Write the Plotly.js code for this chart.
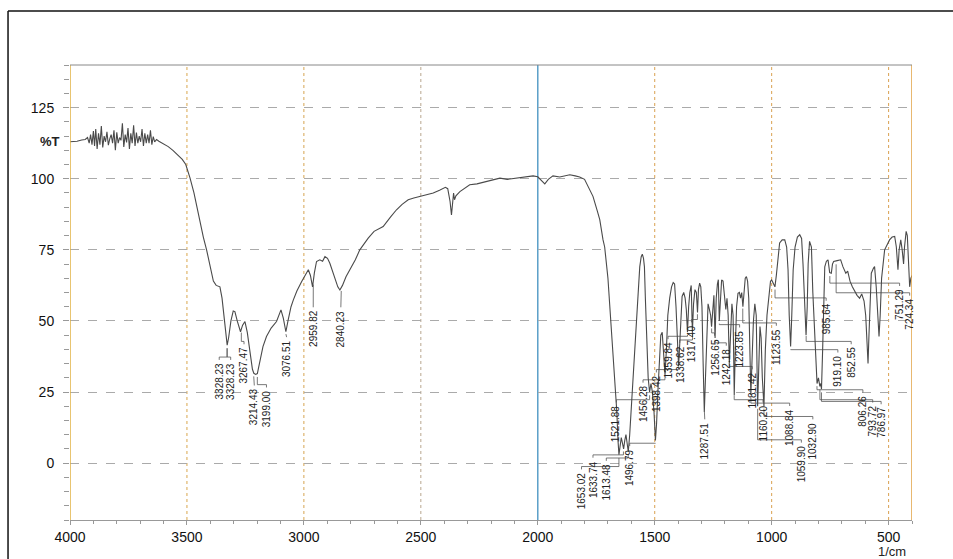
<!DOCTYPE html>
<html>
<head>
<meta charset="utf-8">
<script src="https://cdn.plot.ly/plotly-3.0.1.min.js"></script>
<style>
html,body{margin:0;padding:0;background:#fff;}
#chart{width:953px;height:559px;}
</style>
</head>
<body>
<div id="chart"></div>
<script>
// ---- spectrum (wavenumber, %T) ----
const wavenumber = [4000,3990,3970,3950,3935,3925,3918,3912,3906,3900,3895,3890,3884,3878,3872,3866,3860,3854,3848,3842,3836,3830,3824,3818,3812,3806,3800,3794,3788,3782,3776,3770,3764,3758,3752,3746,3740,3734,3728,3722,3716,3710,3704,3698,3692,3686,3680,3674,3668,3662,3656,3650,3644,3638,3630,3620,3600,3580,3560,3540,3520,3505,3495,3487,3470,3450,3430,3416,3400,3387,3375,3359,3350,3340,3333,3328,3322,3312,3302,3295,3285,3271,3262,3252,3242,3230,3220,3214,3206,3199,3190,3175,3160,3140,3117,3098,3088,3077,3068,3055,3045,3030,3010,2995,2981,2972,2963,2955,2946,2932,2920,2910,2899,2889,2870,2855,2846,2835,2820,2803,2780,2761,2740,2725,2700,2661,2630,2604,2580,2554,2530,2504,2470,2447,2420,2395,2385,2375,2369,2364,2360,2356,2350,2333,2310,2291,2260,2234,2200,2162,2130,2091,2050,2020,2000,1985,1970,1955,1935,1906,1880,1863,1840,1821,1800,1792,1764,1745,1735,1721,1714,1700,1692,1680,1671,1662,1657,1653,1648,1643,1638,1633,1628,1623,1618,1613,1607,1600,1592,1585,1578,1571,1564,1558,1553,1548,1544,1540,1535,1528,1522,1516,1510,1503,1497,1492,1486,1480,1474,1468,1462,1456,1450,1444,1436,1428,1421,1415,1409,1403,1398,1393,1388,1383,1376,1370,1365,1360,1355,1350,1344,1339,1334,1328,1322,1317,1313,1308,1303,1298,1293,1288,1283,1278,1272,1266,1261,1257,1252,1247,1242,1237,1232,1228,1224,1219,1214,1208,1202,1196,1191,1186,1181,1176,1170,1165,1160,1155,1150,1144,1138,1133,1128,1123,1118,1113,1108,1103,1098,1093,1089,1084,1078,1072,1066,1060,1055,1050,1045,1040,1033,1027,1020,1012,1005,1000,992,986,980,972,966,955,944,936,930,925,919,914,908,900,890,880,872,866,860,853,848,844,838,830,824,815,808,806,800,794,790,787,782,778,773,766,759,752,745,740,735,720,705,695,683,675,665,655,645,635,624,615,605,598,592,588,584,578,574,565,560,553,547,541,536,530,517,505,496,485,474,467,460,455,448,442,436,432,425,420,415,410,405,400];
const transmittance = [113.0,113.0,113.2,113.6,113.8,114.5,112.5,115.5,112.0,116.8,111.5,117.5,110.5,116.0,112.0,118.5,111.0,115.0,113.0,116.5,111.8,114.0,115.5,112.5,117.0,110.0,116.3,112.5,114.5,113.5,119.5,111.2,115.5,112.8,117.8,110.5,116.0,112.5,118.8,111.5,116.2,112.5,115.0,113.0,117.5,111.5,116.0,112.5,115.5,112.5,117.0,112.0,114.8,113.0,113.8,113.2,112.3,111.3,110.0,108.5,106.8,105.0,102.5,100.3,95.0,87.0,79.5,75.0,69.0,64.0,62.5,62.0,58.0,50.0,43.5,41.5,44.0,50.0,53.5,53.3,50.0,46.2,48.5,49.8,46.0,38.0,33.0,31.6,31.2,31.5,35.0,41.0,44.5,47.5,49.8,53.9,51.0,46.2,50.0,55.0,57.4,60.5,63.8,66.0,68.0,66.0,62.0,67.0,70.9,71.5,71.0,72.6,72.0,70.3,66.0,62.0,60.9,62.5,65.5,68.0,71.5,75.0,77.5,79.1,81.5,83.2,86.5,89.1,91.0,92.6,93.2,93.8,94.5,95.0,96.0,97.0,96.5,92.0,87.3,92.0,95.0,92.6,94.0,95.5,96.8,97.9,98.2,98.7,99.6,100.2,99.8,100.2,100.6,101.0,100.7,99.5,98.2,99.8,101.0,100.6,101.2,101.4,101.0,100.6,99.8,98.5,93.8,88.5,85.6,78.5,76.0,65.0,55.0,40.0,31.6,18.0,8.0,3.0,6.0,9.0,7.0,5.0,8.0,10.0,7.0,4.0,10.0,20.0,30.0,39.8,50.3,61.0,69.0,72.5,73.5,72.0,69.0,58.0,45.0,30.0,25.0,28.0,25.0,18.0,8.0,14.0,26.0,38.0,45.0,46.0,40.0,31.0,40.0,52.0,58.0,62.0,63.5,63.0,55.0,42.0,34.0,42.0,52.0,58.6,60.0,58.0,54.0,46.0,55.0,60.0,62.5,46.0,56.0,61.0,60.0,53.0,61.0,63.3,62.0,55.0,35.0,18.0,30.0,45.0,56.0,54.0,52.0,48.0,56.0,59.0,44.0,58.0,63.0,64.5,50.0,58.0,64.4,64.0,58.0,54.0,58.0,52.0,35.0,48.0,56.0,52.0,24.0,42.0,55.0,59.7,60.0,58.0,60.0,55.0,62.0,65.0,65.6,64.0,58.0,40.0,24.0,36.0,50.0,56.0,52.0,20.0,35.0,48.0,44.0,30.0,20.0,40.0,52.0,60.0,64.0,64.4,63.0,62.0,66.0,72.0,77.4,78.5,78.5,76.0,68.0,52.0,41.0,52.0,68.0,76.0,79.5,80.3,79.0,70.0,55.0,45.0,55.0,70.0,78.0,76.0,60.0,45.0,30.0,28.0,30.0,27.0,28.0,26.0,40.0,55.0,69.0,71.0,71.5,67.0,66.8,70.0,70.9,71.2,71.5,69.0,66.8,67.5,64.0,62.0,60.3,59.0,58.0,59.5,57.0,52.0,42.0,35.0,45.0,62.0,66.8,68.5,69.1,62.0,52.0,44.5,52.0,65.0,75.0,77.0,78.5,79.5,79.7,76.0,68.0,75.0,78.5,75.0,70.0,76.0,81.5,80.0,70.0,62.0,65.0,66.0];

// ---- peak labels ----
const peakLabels = ["3328.23","3328.23","3267.47","3214.43","3199.00","3076.51","2959.82","2840.23","1653.02","1633.74","1613.48","1521.88","1496.79","1456.28","1398.42","1359.84","1338.62","1317.40","1287.51","1256.65","1242.18","1223.85","1181.42","1160.20","1123.55","1088.84","1059.90","1032.90","985.64","919.10","852.55","806.26","793.72","786.97","751.29","724.34"];
const peakWN = [3328.23,3328.23,3267.47,3214.43,3199.00,3076.51,2959.82,2840.23,1653.02,1633.74,1613.48,1521.88,1496.79,1456.28,1398.42,1359.84,1338.62,1317.40,1287.51,1256.65,1242.18,1223.85,1181.42,1160.20,1123.55,1088.84,1059.90,1032.90,985.64,919.10,852.55,806.26,793.72,786.97,751.29,724.34];
// where each label sits (wavenumber of label, %T of label top)
const labelWN = [3362,3313,3256,3212,3160,3074,2960,2842,1813,1764,1707,1664,1607,1550,1493,1443,1393,1343,1286,1244,1194,1137,1083,1037,980,923,873,824,767,717,660,610,568,532,453,410];
const labelTop = [36,36,41.5,27,26.3,44,54.5,54.5,-2.5,1.6,0.5,21,5.7,28,31.6,43.3,42,49.2,15.1,44.5,41,47.4,32.7,21,48,19.8,6.9,15.1,56.8,38.6,41.5,24.5,21,20.4,62,58.6];

// axis ticks
const xTickVals = [4000,3500,3000,2500,2000,1500,1000,500];
const yTickVals = [0,25,50,75,100,125];
const gridColors = ['#d9a64e','#d6a450','#b8a68e','#5a9fc8','#d9a050','#d9a050','#d9a050'];

// interpolate the curve at a wavenumber
function tAt(w){
  for(let i=0;i<wavenumber.length-1;i++){
    const a=wavenumber[i], b=wavenumber[i+1];
    if((w<=a && w>=b)){
      const f=(a-w)/(a-b);
      return transmittance[i]+(transmittance[i+1]-transmittance[i])*f;
    }
  }
  return transmittance[transmittance.length-1];
}

// leaders
const lx=[], ly=[];
peakWN.forEach((w,i)=>{
  const pt = tAt(w);
  const elbow = labelTop[i] + 1.3;
  lx.push(w, w, labelWN[i], labelWN[i], null);
  ly.push(pt-1.2, elbow, elbow, labelTop[i]+0.3, null);
});

const traces = [
  {x: lx, y: ly, type:'scatter', mode:'lines', line:{color:'#555', width:0.8}, hoverinfo:'skip', connectgaps:false},
  {x: wavenumber, y: transmittance, type:'scatter', mode:'lines', line:{color:'#4a4a4a', width:1.1}, hoverinfo:'skip'}
];

const annotations = peakLabels.map((t,i)=>({
  x: labelWN[i], y: labelTop[i], xref:'x', yref:'y', text: t, showarrow:false,
  textangle:-90, xanchor:'center', yanchor:'top',
  font:{family:'Arial, Liberation Sans, sans-serif', size:10, color:'#222'}
}));
annotations.push({x:-0.0095, xref:'paper', y:113, yref:'y', text:'<b>%T</b>', showarrow:false, xanchor:'right', yanchor:'middle', font:{family:'Arial', size:13, color:'#222'}});
annotations.push({x:0.976, xref:'paper', y:-0.069, yref:'paper', text:'1/cm', showarrow:false, xanchor:'center', yanchor:'middle', font:{family:'Arial', size:13, color:'#222'}});

const shapes = [];
xTickVals.slice(1).forEach((v,i)=>{
  shapes.push({type:'line', xref:'x', yref:'paper', x0:v, x1:v, y0:0, y1:1, layer:'below',
    line:{color:gridColors[i], width: v===2000?1.5:1, dash: v===2000?'solid':'dot'}});
});
// plot borders
shapes.push({type:'line', xref:'x', yref:'paper', x0:4000, x1:4000, y0:0, y1:1, line:{color:'#e0b040', width:1.5}});
shapes.push({type:'line', xref:'x', yref:'paper', x0:400, x1:400, y0:0, y1:1, line:{color:'#e0a040', width:1.5}});
shapes.push({type:'line', xref:'paper', yref:'paper', x0:0, x1:1, y0:1, y1:1, line:{color:'#888', width:1}});
// outer frame
shapes.push({type:'line', xref:'paper', yref:'paper', x0:-0.0736, x1:-0.0736, y0:-0.2, y1:1.1187, line:{color:'#111', width:1.5}});
shapes.push({type:'line', xref:'paper', yref:'paper', x0:-0.0736, x1:1.1, y0:1.1187, y1:1.1187, line:{color:'#111', width:1.5}});

const layout = {
  width:953, height:559,
  margin:{l:70, r:41, t:65, b:39},
  paper_bgcolor:'#fff', plot_bgcolor:'#fff',
  showlegend:false,
  xaxis:{
    range:[4000,400], tickvals:xTickVals, ticktext:xTickVals.map(String),
    ticks:'outside', ticklen:4, tickcolor:'#999', showgrid:false, zeroline:false,
    showline:true, linecolor:'#999', linewidth:1,
    minor:{dtick:100, ticks:'outside', ticklen:3, tickcolor:'#999', showgrid:false},
    tickfont:{family:'Arial', size:14, color:'#111'}
  },
  yaxis:{
    range:[-20,140], tickvals:yTickVals, ticktext:yTickVals.map(String),
    ticks:'outside', ticklen:6, tickcolor:'#999', showgrid:true, gridcolor:'#aaa', griddash:'dash', gridwidth:1,
    zeroline:false, showline:false,
    minor:{dtick:5, ticks:'outside', ticklen:5, tickcolor:'#999', showgrid:false},
    ticklabelstandoff:6,
    tickfont:{family:'Arial', size:14, color:'#111'}
  },
  shapes: shapes,
  annotations: annotations
};

Plotly.newPlot('chart', traces, layout, {displayModeBar:false, staticPlot:true});
</script>
</body>
</html>
